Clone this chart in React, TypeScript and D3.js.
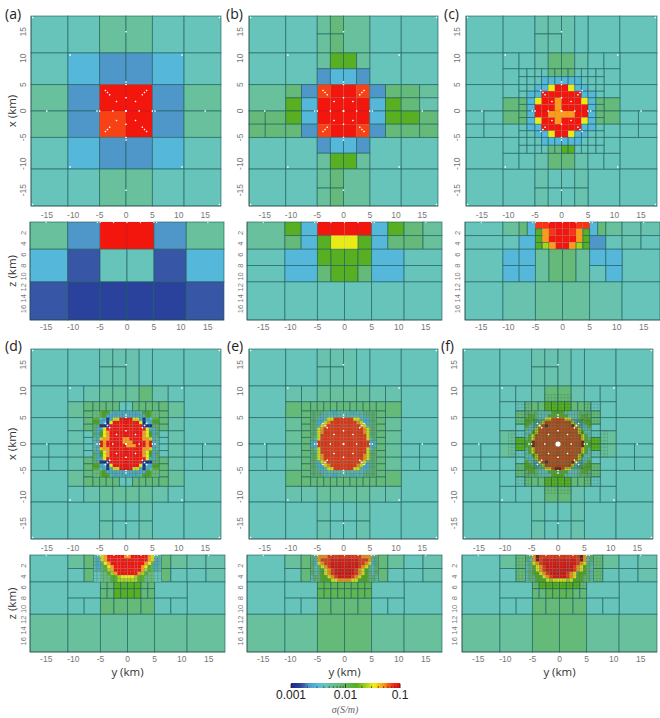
import React from "react";
import * as d3 from "d3";

type Patch = [number[], number[], string[]];
type Mesh = [number, number, number, number, number];

// conductivity level (S/m) of each letter used in the cell tables
const LEVELS: Record<string, number> = {
  n: 0.0011, b: 0.00148, m: 0.00166, B: 0.0021, c: 0.0029, t: 0.0042, s: 0.0047, g: 0.0054,
  G: 0.0075, h: 0.0105, H: 0.016, l: 0.024, y: 0.032, o: 0.05, f: 0.066, O: 0.068, e: 0.072, r: 0.09, R: 0.1, D: 0.16,
};
const COLOR_POS = [0, 0.08, 0.115, 0.16, 0.24, 0.31, 0.37, 0.44, 0.52, 0.6, 0.68, 0.76, 0.85, 0.9, 0.95, 1, 1.1];
const COLOR_HEX = ["#1a2a8a", "#2a3f9a", "#3a5aa8", "#4f96c8", "#56bcdc", "#66c4bc", "#68c09a", "#66ba78", "#5fb550", "#56ae22", "#9ccf20", "#f0ee15", "#ff9a15", "#f55518", "#ff1a10", "#e81010", "#8a1a10"];

const XY_TICKS = [-15, -10, -5, 0, 5, 10, 15];
const Z_TICKS = [2, 4, 6, 8, 10, 12, 14, 16];
const BAR_MAJOR = [0.001, 0.01, 0.1];
const BAR_LABELS = ["0.001", "0.01", "0.1"];
const BAR_MINOR = [0.002, 0.003, 0.004, 0.005, 0.006, 0.007, 0.008, 0.009, 0.02, 0.03, 0.04, 0.05, 0.06, 0.07, 0.08, 0.09];

// receiver positions, one octant (y, x) in km
const MARKERS = [[0, 0], [0, 2.5], [0, 5], [0, 5.5], [0, 15], [1.8, 1.8], [3.1, 3.1], [3.5, 3.5], [3.9, 3.9], [10.6, 10.6], [17.7, 17.7]];
const SURFACE_MARKERS = [-15, -5.5, -5, -2.5, 0, 2.5, 5, 5.5, 15];

const E5 = [-5, -2.5, 0, 2.5, 5];
const E8 = [-11, -8, -5, -2.5, 0, 2.5, 5, 8, 11];
const E_FINE = [-6.25, -5.625, -5, -4.375, -3.75, -3.125, -2.5, -1.875, -1.25, -0.625, 0, 0.625, 1.25, 1.875, 2.5, 3.125, 3.75, 4.375, 5, 5.625, 6.25];
const E_RING = [-8, -6.25, -5, -3.75, -2.5, -1.25, 0, 1.25, 2.5, 3.75, 5, 6.25, 8];
const E_C = [-8, -6.5, -5, -3.75, -2.5, -1.25, 0, 1.25, 2.5, 3.75, 5, 6.5, 8];
const E_125 = [-5, -3.75, -2.5, -1.25, 0, 1.25, 2.5, 3.75, 5];
const DESC = (a: number[]) => [...a].reverse();
const Z_FINE = [0, 0.625, 1.25, 1.875, 2.5, 3.125, 3.75, 4.375, 5];

const SHELL: Patch[] = [
  [[-18, -11, -5, 5, 11, 18], [18, 11, 5, -5, -11, -18], ["tt.tt", "t...t", ".....", "t...t", "tt.tt"]],
  [[-5, -2.5, 0], [18, 14.6, 11], ["ss", "ss"]],
  [[0, 2.5, 5], [18, 11], ["st"]],
  [E5, [-11, -14.6, -18], ["stts", "stts"]],
  [[-18, -11], [5, 0], ["t"]],
  [[-18, -14.6, -11], [0, -2.5, -5], ["tt", "tt"]],
  [[11, 18], [5, 0], ["t"]],
  [[11, 14.5, 18], [0, -2.5, -5], ["tt", "tt"]],
];
const ARM_X = [8, 5, 2.5, 0, -2.5, -5, -8];
const arms = (n: string, s: string, w: string[], e: string[]): Patch[] => [
  [E8, [11, 8], [n]],
  [E8, [-8, -11], [s]],
  [[-11, -8], ARM_X, w],
  [[8, 11], ARM_X, e],
];
const bottomShell = (left: string[], right: string[], z8: string, z11: string, core: string[]): Patch[] => [
  [[-18, -11], [0, 5], ["t"]],
  [[-11, -8, -6.25], [0, 2.5, 5], left],
  [[6.25, 8, 11, 14.5, 18], [0, 2.5, 5], right],
  [[-18, -11], [5, 11], ["t"]],
  [[11, 18], [5, 11], ["t"]],
  [[-11, -5], [5, 8], ["t"]],
  [[5, 11], [5, 8], ["t"]],
  [E8, [8, 11], [z8]],
  [[-18, -11, -5, 0, 5, 11, 18], [11, 18], [z11]],
  [E_125, [5, 6.25, 8], core],
];

// ---- panel (a)
const A_TOP: Patch[] = [[[-18, -11, -5, 0, 5, 11, 18], [18, 11, 5, 0, -5, -11, -18],
  ["ttggtt", "tcBBct", "gBrrBg", "gBOrBg", "tcBBct", "ttggtt"]]];
const A_BOT: Patch[] = [[[-18, -11, -5, 0, 5, 11, 18], [0, 5, 11, 18], ["gBrrBg", "cmttmc", "mbbbbm"]]];

// ---- panel (b)
const B_TOP: Patch[] = [
  [[-18, -11, -5, 5, 11, 18], [18, 11, 5, -5, -11, -18], ["tt.tt", "tt.tt", ".....", "tt.tt", "tt.tt"]],
  [[-5, -2.5, 0], [18, 14.6, 11], ["gG", "gG"]],
  [[0, 5], [18, 11], ["g"]],
  [E5, [11, 8, 5, 2.5, 0, -2.5, -5, -8, -11], ["gHHg", "BccB", "OrrO", "rrrr", "rrrr", "OrrO", "BccB", "gHHg"]],
  [[-5, -2.5, 0], [-11, -14.6, -18], ["gG", "gG"]],
  [[0, 5], [-11, -18], ["g"]],
  [[-18, -11], [5, 0], ["g"]],
  [[-18, -14.9, -11], [0, -2.5, -5], ["GG", "GG"]],
  [[-11, -8, -5], [5, 2.5, 0, -2.5, -5], ["GB", "Hc", "Hc", "GB"]],
  [[5, 8, 11, 14.5, 18], [5, 2.5, 0, -2.5, -5], ["BGGg", "cHGs", "cHHG", "BGGG"]],
];
const B_BOT: Patch[] = [
  [[-18, -11], [0, 5], ["g"]],
  [[-11, -8, -5, -2.5, 0, 2.5, 5, 8, 11, 14.5, 18], [0, 2.5, 5], ["HcrrrrcHGg", "GcHyyHcGGg"]],
  [[-18, -11, -5, -2.5, 0, 2.5, 5, 11, 18], [5, 8, 11], ["tcHHHHct", "tcGHHGct"]],
  [[-18, -11, -5, 0, 5, 11, 18], [11, 18], ["tttttt"]],
];

// ---- panel (c)
const C_TOP: Patch[] = [
  ...SHELL,
  ...arms("ttsGGstt", "ttsGGstt", ["t", "t", "G", "G", "t", "t"], ["t", "t", "G", "G", "t", "t"]),
  [E_C, DESC(E_C), [
    "ttttGGGGtttt", "tttccccccttt", "ttccyrrycctt", "tccrrrrrrcct", "GcyrrorrrycG", "GcrrrorrrrcG",
    "GcrroooorrcG", "GcyrrorrrycG", "tccrrrrrrcct", "ttccyrrycctt", "tttccccccttt", "ttttGGHHtttt"]],
];
const C_BOT: Patch[] = [
  [[-18, -11, -8, -6.5, -5, 5, 6.5, 8, 11, 14.5, 18], [0, 2.5], ["tgGc.cGgss"]],
  [[-18, -11, -8, -5], [2.5, 5], ["ttc"]],
  [[5, 8, 11, 14.5, 18], [2.5, 5], ["Btst"]],
  [E_125, [0, 1.25, 2.5, 3.75, 5], ["eerrrree", "HoerreoH", "HorrrroH", "HlorrolH"]],
  [[-18, -11], [5, 11], ["t"]],
  [[11, 18], [5, 11], ["t"]],
  [[-11, -8, -5], [5, 8, 11], ["cc", "cc"]],
  [[5, 8, 11], [5, 8, 11], ["cc", "tc"]],
  [E5, [5, 11], ["gGGg"]],
  [[-18, -11, -5, 0, 5, 11, 18], [11, 18], ["tsggst"]],
];

// ---- panel (d)
const D_RING = ["GGGGGttGGGGG", "G..........G", "G..........G", "G..........G", "t..........t", "t..........t",
  "t..........t", "t..........t", "G..........G", "G..........G", "G..........G", "GGGGGttGGGGG"];
const D_DISC = [
  "GGHHHtcccccccctHHHGG", "GGHHccccccccccccHHGG", "HHccncyyrrrryycnccHH", "HHccnyrrrrrrrrynccHH",
  "GGnnnrrrrrrrrrrnnnGG", "GccyrrrrrrrrrrrryccG", "GcHyorrrrrrrrrroyHcG", "GcHyorrrrrrrrrroyHcG",
  "tcyoorrrroorrrrooyct", "tcrorrrrrooorrrrorct", "tcrorrrrrrooorrrorct", "tcyoorrrrrrrrrrooyct",
  "GcHyorrrrrrrrrroyHcG", "GcHyorrrrrrrrrroyHcG", "GccyrrrrrrrrrrrryccG", "GGnnnrrrrrrrrrrnnnGG",
  "HHccnyrrrrrrrrynccHH", "HHccncyyrrrryycnccHH", "GGHHccccccccccccHHGG", "GGHHHtcccccccctHHHGG"];
const D_Z = [
  "ttyorrrrroorrrrroytt", "tcyorrrrrrrrrrrroyct", "tcGyorrrrrrrrrroyGct", "tcGHyorrrrrrrroyHGct",
  "tcGHlorrrrrrrrolHGct", "ttGGHlorrrrrrolHGGtt", "ttGGGHHlyyyylHHGGGtt", "ttGGGHHllllllHHGGGtt"];
const D_TOP: Patch[] = [
  ...SHELL,
  ...arms("tsgggGst", "tsggggst", ["g", "s", "s", "s", "s", "g"], ["g", "s", "s", "s", "s", "g"]),
  [E_RING, DESC(E_RING), D_RING],
];
const D_TOP_FINE: Patch[] = [[E_FINE, DESC(E_FINE), D_DISC]];
const D_BOT: Patch[] = bottomShell(["gG", "tG"], ["Ggss", "Gtts"], "ttGGGGtt", "gggggg", ["GGHHHHGG", "GGHHHHGG"]);
const D_BOT_FINE: Patch[] = [[E_FINE, Z_FINE, D_Z]];
const D_MESH: Mesh[] = [[-4.4, 4.4, 4.4, 6.25, 0.3125], [-4.4, 4.4, -6.25, -4.4, 0.3125], [-6.25, -4.4, -4.4, 4.4, 0.3125], [4.4, 6.25, -4.4, 4.4, 0.3125]];
const D_BOT_MESH: Mesh[] = [[-6.25, -4.6, 0, 3.1, 0.3125], [4.6, 6.25, 0, 3.1, 0.3125]];

// ---- panel (e)
const E_RING_ROWS = ["GGGGGGGGGGGG", "G..........G", "G..........G", "G..........G", "G..........G", "G..........G",
  "G..........G", "G..........G", "G..........G", "G..........G", "G..........G", "GGGGGGGGGGGG"];
const E_DISC = [
  "GGGGttccttttccttGGGG", "GGGcttttttttttttcGGG", "GGcctyyeeeeeeyytccGG", "GGccyoeeeeeeeeoyccGG",
  "GGcyoeeeeeeeeeeoycGG", "GGyoeeeeeeeeeeeeoyGG", "GGyoeeeeeeeeeeeeoyGG", "GGyeeeeeeeeeeeeeeyGG",
  "GtyeeeeeeeeeeeeeeytG", "cceeeeeeeeeeeeeeeecc", "cceeeeeeeeeeeeeeeecc", "GtyeeeeeeeeeeeeeeytG",
  "GGyeeeeeeeeeeeeeeyGG", "GGyoeeeeeeeeeeeeoyGG", "GGyoeeeeeeeeeeeeoyGG", "GGcyoeeeeeeeeeeoycGG",
  "GGccyoeeeeeeeeoyccGG", "GGcctyyeeeeeeyytccGG", "GGGcttttttttttttcGGG", "GGGGttccttttccttGGGG"];
const E_Z = [
  "GGoooeeeeeeeeeeoooGG", "GcoeeerrrrrrrreeeocG", "GcyoeerrrrrrrreeoycG", "GtGyoeRRRRRRRReoyGtG",
  "GtGHyoeRRRRRReoyHGtG", "GtGHyoeRRRRRReoyHGtG", "tGGHHyoeRRRReoyHHGGt", "tGGHHHyyooooyyHHHGGt"];
const E_TOP: Patch[] = [
  ...SHELL,
  ...arms("ssggggss", "ssggggss", ["G", "g", "g", "g", "g", "G"], ["G", "g", "g", "g", "g", "G"]),
  [E_RING, DESC(E_RING), E_RING_ROWS],
];
const E_TOP_FINE: Patch[] = [[E_FINE, DESC(E_FINE), E_DISC]];
const E_BOT: Patch[] = bottomShell(["gG", "tG"], ["Ggts", "Gtts"], "ttGGGGtt", "ggGGgg", ["hhhhhhhh", "hhhhhhhh"]);
const E_BOT_FINE: Patch[] = [[E_FINE, Z_FINE, E_Z]];
const E_MESH: Mesh[] = [[-6.25, 6.25, -6.25, 6.25, 0.3125]];
const E_BOT_MESH: Mesh[] = [[-6.25, 6.25, 0, 5, 0.3125]];

// ---- panel (f)
const F_RING = ["tGGGHHHHGGGt", "G..........G", "G..........G", "t..........t", "t..........t", "H..........H",
  "H..........H", "t..........t", "t..........t", "G..........G", "G..........G", "tGGGHHHHGGGt"];
const F_DISC = [
  "GGGGttttHHHHttttGGGG", "GHHGtttHHHHHHtttGHHG", "HHHGttyyffffyyttGHHH", "HHGctyffffffffytcGHH",
  "HGctyfDfffffffDytcGH", "GctyffffffffffffytcG", "ttHyffffffffffffyHtt", "tHyffffffffffffffyHt",
  "GHyffffffffffffffyHG", "HHDffffffffffffffDHH", "HHDffffffffffffffDHH", "GHyffffffffffffffyHG",
  "tHyffffffffffffffyHt", "ttHyffffffffffffyHtt", "GctyffffffffffffytcG", "HGctyfDfffffffDytcGH",
  "HHGctyffffffffytcGHH", "HHHGttyyfDDfyyttGHHH", "GHHGtttHHHHHHtttGHHG", "GGGGttttHHHHttttGGGG"];
const F_Z = [
  "GGoDeeeeeeeeeeeeDoGG", "GtoDerrrrrrrrrreDotG", "tGyoerrrrrrrrrreoyGt", "tGHyoeRRRRRRRReoyHGt",
  "tGHyoeRRRRRRRReoyHGt", "tGHHyoeRRRRReoyHHHGt", "tGGHHyoeRRRReoyHHGGt", "tGGHHHylyyyylyHHHGGt"];
const F_TOP: Patch[] = [
  ...SHELL,
  ...arms("ttsGGstt", "ttsGGstt", ["t", "t", "g", "g", "t", "t"], ["t", "t", "g", "g", "t", "t"]),
  [E_RING, DESC(E_RING), F_RING],
];
const F_TOP_FINE: Patch[] = [[E_FINE, DESC(E_FINE), F_DISC]];
const F_BOT: Patch[] = bottomShell(["gG", "tG"], ["Ggts", "Gtts"], "ttGGGGtt", "ggGGgg", ["GHHHHHHG", "GGhhhhGG"]);
const F_BOT_FINE: Patch[] = [[E_FINE, Z_FINE, F_Z]];
const F_MESH: Mesh[] = [[-6.25, 6.25, -6.25, 6.25, 0.3125], [-4.7, 4.7, -4.7, 4.7, 0.3125], [-4.7, 4.7, -4.7, 4.7, 0.3125], [-2.5, 2.5, 6.25, 9.4, 0.625], [-2.5, 2.5, -9.4, -6.25, 0.625], [-9.4, -6.25, -2.5, 2.5, 0.625], [6.25, 9.4, -2.5, 2.5, 0.625], [-8, -5, 3.75, 8, 0.625], [5, 8, 3.75, 8, 0.625], [-8, -5, -8, -3.75, 0.625], [5, 8, -8, -3.75, 0.625]];
const F_BOT_MESH: Mesh[] = [[-6.25, 6.25, 0, 5, 0.3125], [-8.1, -6.25, 0, 5, 0.625], [6.25, 8.1, 0, 5, 0.625], [-5, 5, 5, 6.25, 0.625]];

// ---- layout (pixels)
type Panel = {
  label: string; lx: number; ly: number;
  top: [number, number, number, number]; bot: [number, number, number, number];
  tickX: number;
  coarse: Patch[]; fine?: Patch[]; mesh?: Mesh[];
  botCoarse: Patch[]; botFine?: Patch[]; botMesh?: Mesh[];
  centerDot?: boolean; xLabel?: boolean; yLabels?: boolean;
};
const PANELS: Panel[] = [
  { label: "(a)", lx: 5, ly: 19, top: [31, 221, 16, 206], bot: [30, 224, 222, 320], tickX: 23, coarse: A_TOP, botCoarse: A_BOT, yLabels: true },
  { label: "(b)", lx: 226, ly: 19, top: [249, 438, 16, 206], bot: [247, 442, 222, 320], tickX: 240, coarse: B_TOP, botCoarse: B_BOT },
  { label: "(c)", lx: 444, ly: 19, top: [466, 657, 16, 206], bot: [465, 660, 222, 320], tickX: 457, coarse: C_TOP, botCoarse: C_BOT },
  { label: "(d)", lx: 5, ly: 351, top: [31, 221, 349, 539], bot: [30, 225, 555, 652], tickX: 23, coarse: D_TOP, fine: D_TOP_FINE, mesh: D_MESH, botCoarse: D_BOT, botFine: D_BOT_FINE, botMesh: D_BOT_MESH, xLabel: true, yLabels: true },
  { label: "(e)", lx: 227, ly: 351, top: [249, 438, 349, 539], bot: [247, 442, 555, 652], tickX: 240, coarse: E_TOP, fine: E_TOP_FINE, mesh: E_MESH, botCoarse: E_BOT, botFine: E_BOT_FINE, botMesh: E_BOT_MESH, xLabel: true },
  { label: "(f)", lx: 441, ly: 351, top: [463, 653, 349, 539], bot: [462, 657, 555, 652], tickX: 454, coarse: F_TOP, fine: F_TOP_FINE, mesh: F_MESH, botCoarse: F_BOT, botFine: F_BOT_FINE, botMesh: F_BOT_MESH, xLabel: true, centerDot: true },
];

const pos = d3.scaleLog().domain([0.001, 0.1]).range([0, 1]);
const ramp = d3.scaleLinear<string>().domain(COLOR_POS).range(COLOR_HEX).clamp(true);
const colorOf = (v: number) => ramp(pos(v));

const MESH_LINE = "#1f5f5c";
const TICK_FILL = "#777";
const SANS = "'Liberation Sans', Arial, sans-serif";
const LABEL = "'Open Sans', sans-serif";

function Cells({ patches, sx, sv, fine }: { patches: Patch[]; sx: any; sv: any; fine?: boolean }) {
  const out: React.ReactNode[] = [];
  patches.forEach(([ys, xs, rows], p) => {
    rows.forEach((row, r) => {
      for (let c = 0; c < ys.length - 1; c++) {
        const ch = row[c];
        if (!ch || ch === ".") continue;
        const v = LEVELS[ch];
        const hot = v >= 0.03;
        const x0 = sx(ys[c]), x1 = sx(ys[c + 1]), y0 = sv(xs[r]), y1 = sv(xs[r + 1]);
        out.push(
          <rect key={`${p}-${r}-${c}`} x={x0} y={y0} width={x1 - x0} height={y1 - y0} fill={colorOf(v)}
            stroke={MESH_LINE} strokeWidth={fine ? 0.4 : hot ? 0.4 : 0.9} strokeOpacity={fine ? (hot ? 0.25 : 0.45) : hot ? 0.25 : 0.7} />
        );
      }
    });
  });
  return <g>{out}</g>;
}

function MeshLines({ meshes, sx, sv }: { meshes: Mesh[]; sx: any; sv: any }) {
  const out: React.ReactNode[] = [];
  meshes.forEach(([y0, y1, a0, a1, step], m) => {
    d3.range(Math.ceil(y0 / step) * step, y1 + 1e-6, step).forEach((y, i) => {
      out.push(<line key={`v${m}-${i}`} x1={sx(y)} x2={sx(y)} y1={sv(a0)} y2={sv(a1)} />);
    });
    d3.range(Math.ceil(a0 / step) * step, a1 + 1e-6, step).forEach((a, i) => {
      out.push(<line key={`h${m}-${i}`} x1={sx(y0)} x2={sx(y1)} y1={sv(a)} y2={sv(a)} />);
    });
  });
  return <g stroke="#2a5a30" strokeWidth={0.35} strokeOpacity={0.4}>{out}</g>;
}

const octant = MARKERS.flatMap(([a, b]) => [[a, b], [-a, b], [a, -b], [-a, -b], [b, a], [-b, a], [b, -a], [-b, -a]]);

function PanelView({ p }: { p: Panel }) {
  const [l, r, t, b] = p.top;
  const [bl, br, bt, bb] = p.bot;
  const sx = d3.scaleLinear().domain([-18, 18]).range([l, r]);
  const sv = d3.scaleLinear().domain([18, -18]).range([t, b]);
  const bx = d3.scaleLinear().domain([-18, 18]).range([bl, br]);
  const bz = d3.scaleLinear().domain([0, 18]).range([bt, bb]);
  return (
    <g>
      <g filter="url(#soft)">
        <Cells patches={p.coarse} sx={sx} sv={sv} />
        {p.fine && <Cells patches={p.fine} sx={sx} sv={sv} fine />}
        {p.mesh && <MeshLines meshes={p.mesh} sx={sx} sv={sv} />}
        <Cells patches={p.botCoarse} sx={bx} sv={bz} />
        {p.botFine && <Cells patches={p.botFine} sx={bx} sv={bz} fine />}
        {p.botMesh && <MeshLines meshes={p.botMesh} sx={bx} sv={bz} />}
        {octant.map(([y, x], i) => (
          <circle key={i} cx={sx(y)} cy={sv(x)} r={0.75} fill="#fff" fillOpacity={0.85} />
        ))}
        {SURFACE_MARKERS.map((y, i) => (
          <circle key={i} cx={bx(y)} cy={bt + 0.5} r={0.7} fill="#fff" fillOpacity={0.85} />
        ))}
        {p.centerDot && <circle cx={sx(0)} cy={sv(0)} r={2.6} fill="#fff" />}
        <path d={`M${l},${t}V${b}H${r}`} fill="none" stroke="#2b3a3a" strokeWidth={0.7} strokeOpacity={0.7} />
        <path d={`M${bl},${bt}V${bb}H${br}`} fill="none" stroke="#2b3a3a" strokeWidth={0.7} strokeOpacity={0.7} />
      </g>
      <g fontFamily={SANS} fontSize={8.5} fill={TICK_FILL} textAnchor="middle">
        {XY_TICKS.map((v) => (
          <text key={`a${v}`} x={sx(v)} y={b + 11.5}>{v}</text>
        ))}
        {XY_TICKS.map((v) => (
          <text key={`b${v}`} x={bx(v)} y={bb + 9.5}>{v}</text>
        ))}
        {XY_TICKS.map((v) => (
          <text key={`c${v}`} transform={`translate(${p.tickX + 3},${sv(v)}) rotate(-90)`}>{v}</text>
        ))}
      </g>
      <g fontFamily={SANS} fontSize={7.5} fill={TICK_FILL} textAnchor="middle">
        {Z_TICKS.map((v) => (
          <text key={`d${v}`} transform={`translate(${p.tickX + 3},${bz(v)}) rotate(-90)`}>{v}</text>
        ))}
      </g>
      <text x={p.lx} y={p.ly} fontFamily={LABEL} fontSize={14} fill="#222">{p.label}</text>
      {p.yLabels && (
        <g fontFamily={LABEL} fontSize={11.5} fontWeight={500} fill="#333" textAnchor="middle">
          <text transform={`translate(16,${sv(0)}) rotate(-90)`}>x (km)</text>
          <text transform={`translate(16,${bz(9)}) rotate(-90)`}>z (km)</text>
        </g>
      )}
      {p.xLabel && (
        <text x={bx(0)} y={676} textAnchor="middle" fontFamily={LABEL} fontSize={11.5} fontWeight={500} fill="#333">y (km)</text>
      )}
    </g>
  );
}

function ColorBar() {
  const L = 291, R = 400, T = 683, B = 688;
  const s = d3.scaleLog().domain([0.001, 0.1]).range([L, R]);
  const strips = d3.range(L, R, 1);
  return (
    <g>
      {strips.map((px) => (
        <rect key={px} x={px} y={T} width={1.2} height={B - T} fill={colorOf(s.invert(px + 0.5))} />
      ))}
      {BAR_MINOR.map((v) => (
        <line key={v} x1={s(v)} x2={s(v)} y1={B} y2={B - 2} stroke="#333" strokeWidth={0.7} />
      ))}
      {BAR_MAJOR.map((v) => (
        <line key={v} x1={s(v)} x2={s(v)} y1={B} y2={B - 4} stroke="#222" strokeWidth={0.8} />
      ))}
      {BAR_MAJOR.map((v, i) => (
        <text key={v} x={s(v)} y={699} textAnchor="middle" fontFamily={SANS} fontSize={12} fill="#222">{BAR_LABELS[i]}</text>
      ))}
      <text x={345} y={713} textAnchor="middle" fontFamily="'Liberation Serif', serif" fontStyle="italic" fontSize={10} fill="#666">σ(S/m)</text>
    </g>
  );
}

export default function App() {
  return (
    <svg width={660} height={718} style={{ position: "absolute", left: 0, top: 0, background: "#fff" }}>
      <defs>
        <filter id="soft" x="-5%" y="-5%" width="110%" height="110%">
          <feGaussianBlur stdDeviation={0.4} />
        </filter>
      </defs>
      {PANELS.map((p) => <PanelView key={p.label} p={p} />)}
      <ColorBar />
    </svg>
  );
}
